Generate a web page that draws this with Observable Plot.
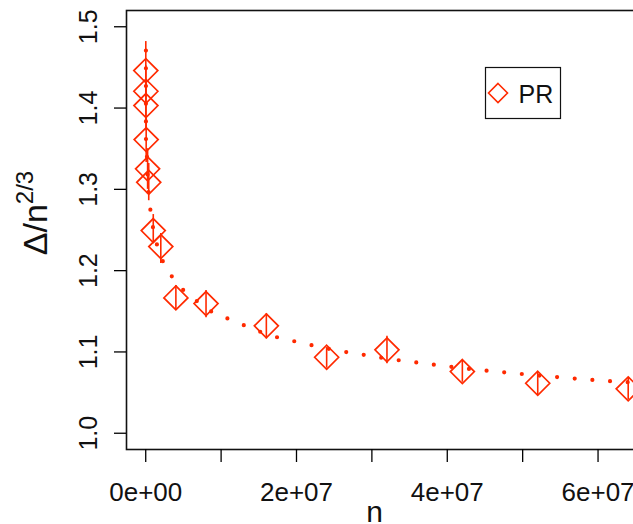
<!DOCTYPE html>
<html><head><meta charset="utf-8">
<script src="https://cdn.jsdelivr.net/npm/d3@7"></script>
<script src="https://cdn.jsdelivr.net/npm/@observablehq/plot@0.6"></script>
<style>html,body{margin:0;padding:0;overflow:hidden;background:#fff;} #chart svg{max-width:none !important;}</style>
</head><body><div id="chart"></div>
<script>
// ---- data ----
const seriesName = "PR";
const pointN   = [1e4, 2e4, 3e4, 6e4, 2.5e5, 4e5, 1e6, 2e6, 4e6, 8e6, 1.6e7, 2.4e7, 3.2e7, 4.2e7, 5.2e7, 6.4e7];
const pointY   = [1.4461, 1.4207, 1.4031, 1.3612, 1.3252, 1.3087, 1.2493, 1.2296, 1.1665, 1.1595, 1.1321, 1.0935, 1.1026, 1.0759, 1.0615, 1.0546];
const errLow   = [1.410, 1.390, 1.372, 1.333, 1.300, 1.286, 1.2346, 1.2087, 1.1518, 1.1420, 1.1161, 1.0800, 1.0854, 1.0627, 1.0476, 1.0411];
const errHigh  = [1.4818, 1.452, 1.434, 1.390, 1.350, 1.3318, 1.2690, 1.2456, 1.1817, 1.1755, 1.1469, 1.1054, 1.1193, 1.0886, 1.0750, 1.0681];

const curveN = [2.7e4, 2.7e4, 2.7e4, 2.7e4, 2.7e4, 2.7e4, 1.6e5, 2.4e5, 3.7e5, 6.0e5, 9.3e5, 1.43e6, 2.16e6, 3.34e6, 4.80e6, 6.56e6, 8.42e6, 1.054e7, 1.271e7, 1.483e7, 1.704e7, 1.930e7, 2.159e7, 2.390e7, 2.615e7, 2.845e7, 3.074e7, 3.309e7, 3.538e7, 3.769e7, 3.999e7, 4.233e7, 4.463e7, 4.692e7, 4.927e7, 5.162e7, 5.391e7, 5.626e7, 5.855e7, 6.085e7, 6.320e7, 6.552e7];
const curveY = [1.4707, 1.4490, 1.4277, 1.4059, 1.3846, 1.3629, 1.3407, 1.3191, 1.2964, 1.2760, 1.2546, 1.2337, 1.2134, 1.1943, 1.1776, 1.1641, 1.1509, 1.1423, 1.1341, 1.1260, 1.1189, 1.1140, 1.1091, 1.1046, 1.1005, 1.0972, 1.0935, 1.0903, 1.0878, 1.0849, 1.0824, 1.0796, 1.0775, 1.0755, 1.0734, 1.0713, 1.0697, 1.0677, 1.0661, 1.0645, 1.0632, 1.0620];

const xTicks = [0, 1e7, 2e7, 3e7, 4e7, 5e7, 6e7];
const xTickLabels = ["0e+00", "", "2e+07", "", "4e+07", "", "6e+07"];
const yTicks = [1.0, 1.1, 1.2, 1.3, 1.4, 1.5];
const yTickLabels = ["1.0", "1.1", "1.2", "1.3", "1.4", "1.5"];
const xTitle = "n";
const yTitleBase = "Δ/n";
const yTitleSup = "2/3";

// ---- build tables ----
const points = pointN.map((n, i) => ({n, y: pointY[i], lo: errLow[i], hi: errHigh[i]}));
const curve = curveN.map((n, i) => ({n, y: curveY[i]}));

const RED = "#ff2a00";
const FONT = "Liberation Sans, Arial, Helvetica, sans-serif";
const diamond = {
  draw(ctx, size) {
    const r = Math.sqrt(size / Math.PI);
    ctx.moveTo(0, -r); ctx.lineTo(r, 0); ctx.lineTo(0, r); ctx.lineTo(-r, 0); ctx.closePath();
  }
};

const chart = Plot.plot({
  width: 672,
  height: 524,
  marginLeft: 126,
  marginRight: 25,
  marginTop: 10,
  marginBottom: 75,
  style: {fontFamily: FONT, background: "#fff", overflow: "visible", maxWidth: "none"},
  x: {domain: [-2.55e6, 6.656e7]},
  y: {domain: [0.98, 1.52]},
  marks: [
    Plot.line(curve, {x: "n", y: "y", stroke: RED, strokeWidth: 4.2, strokeLinecap: "round", strokeDasharray: "0 17.7", clip: true}),
    Plot.ruleX(points, {x: "n", y1: "lo", y2: "hi", stroke: RED, strokeWidth: 1.6, clip: true}),
    Plot.dot(points, {x: "n", y: "y", symbol: diamond, r: 12, stroke: RED, strokeWidth: 1.7, fill: "none", clip: true}),
    Plot.frame({stroke: "#111", strokeWidth: 1.6}),
    Plot.axisX({ticks: xTicks, tickFormat: d => xTickLabels[xTicks.indexOf(d)], tickSize: 13, tickPadding: 20, fontSize: 26, label: null, strokeWidth: 1.3, fill: "#111"}),
    Plot.axisY({ticks: yTicks, tickFormat: d => yTickLabels[yTicks.indexOf(d)], tickSize: 12, tickPadding: 18, tickRotate: -90, fontSize: 25, label: null, strokeWidth: 1.3, fill: "#111"}),
    Plot.text([xTitle], {frameAnchor: "bottom", dx: -12.5, dy: 72, lineAnchor: "bottom", fontSize: 30, fill: "#111"}),
    Plot.text([yTitleBase], {frameAnchor: "left", rotate: -90, dx: -80, dy: -17, textAnchor: "middle", lineAnchor: "bottom", fontSize: 34, fill: "#111"})
  ]
});
chart.style.maxWidth = "none";
chart.style.width = "672px";
chart.style.height = "524px";
document.getElementById("chart").appendChild(chart);

// superscript on y title
for (const t of chart.querySelectorAll("text")) {
  if (t.textContent === yTitleBase) {
    const sup = document.createElementNS("http://www.w3.org/2000/svg", "tspan");
    sup.setAttribute("font-size", "24");
    sup.setAttribute("dy", "-14");
    sup.textContent = yTitleSup;
    t.appendChild(sup);
  }
}

// legend box (top right inside plot)
const svg = d3.select(chart);
const lg = svg.append("g").attr("font-family", FONT).attr("text-anchor", "start");
lg.append("rect").attr("x", 485.5).attr("y", 67.5).attr("width", 75).attr("height", 51)
  .attr("fill", "white").attr("stroke", "#111").attr("stroke-width", 1.2);
lg.append("path").attr("d", d3.symbol(diamond, 9.5 * 9.5 * Math.PI)())
  .attr("transform", "translate(498,93)").attr("fill", "none").attr("stroke", RED).attr("stroke-width", 1.6);
lg.append("text").attr("x", 518.5).attr("y", 102.5).attr("font-size", 25).attr("fill", "#111")
  .attr("text-anchor", "start").text(seriesName);
</script>
</body></html>
